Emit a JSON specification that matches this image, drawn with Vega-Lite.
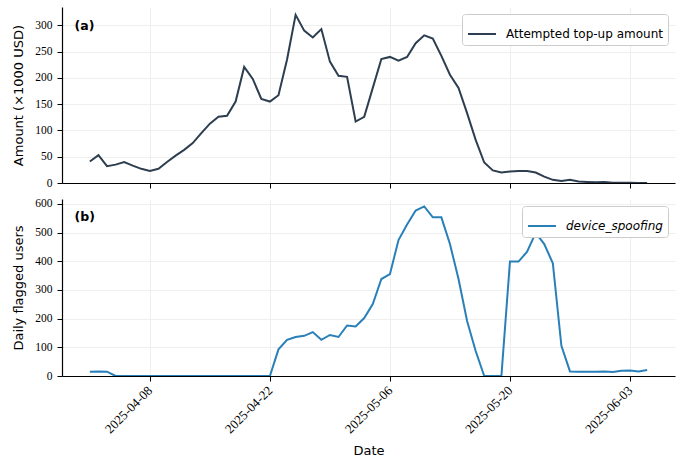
{
  "$schema": "https://vega.github.io/schema/vega-lite/v6.json",
  "padding": {"left": 12, "top": 7, "right": 5, "bottom": 5},
  "datasets": {
    "amount": [
      {"date": "2025-04-01", "series": "Attempted top-up amount", "value": 41},
      {"date": "2025-04-02", "series": "Attempted top-up amount", "value": 53},
      {"date": "2025-04-03", "series": "Attempted top-up amount", "value": 32},
      {"date": "2025-04-04", "series": "Attempted top-up amount", "value": 35},
      {"date": "2025-04-05", "series": "Attempted top-up amount", "value": 40},
      {"date": "2025-04-06", "series": "Attempted top-up amount", "value": 33},
      {"date": "2025-04-07", "series": "Attempted top-up amount", "value": 27},
      {"date": "2025-04-08", "series": "Attempted top-up amount", "value": 23},
      {"date": "2025-04-09", "series": "Attempted top-up amount", "value": 27},
      {"date": "2025-04-10", "series": "Attempted top-up amount", "value": 40},
      {"date": "2025-04-11", "series": "Attempted top-up amount", "value": 52},
      {"date": "2025-04-12", "series": "Attempted top-up amount", "value": 63},
      {"date": "2025-04-13", "series": "Attempted top-up amount", "value": 76},
      {"date": "2025-04-14", "series": "Attempted top-up amount", "value": 95},
      {"date": "2025-04-15", "series": "Attempted top-up amount", "value": 113},
      {"date": "2025-04-16", "series": "Attempted top-up amount", "value": 126},
      {"date": "2025-04-17", "series": "Attempted top-up amount", "value": 128},
      {"date": "2025-04-18", "series": "Attempted top-up amount", "value": 155},
      {"date": "2025-04-19", "series": "Attempted top-up amount", "value": 221},
      {"date": "2025-04-20", "series": "Attempted top-up amount", "value": 198},
      {"date": "2025-04-21", "series": "Attempted top-up amount", "value": 160},
      {"date": "2025-04-22", "series": "Attempted top-up amount", "value": 155},
      {"date": "2025-04-23", "series": "Attempted top-up amount", "value": 167},
      {"date": "2025-04-24", "series": "Attempted top-up amount", "value": 235},
      {"date": "2025-04-25", "series": "Attempted top-up amount", "value": 320},
      {"date": "2025-04-26", "series": "Attempted top-up amount", "value": 290},
      {"date": "2025-04-27", "series": "Attempted top-up amount", "value": 277},
      {"date": "2025-04-28", "series": "Attempted top-up amount", "value": 293},
      {"date": "2025-04-29", "series": "Attempted top-up amount", "value": 231},
      {"date": "2025-04-30", "series": "Attempted top-up amount", "value": 204},
      {"date": "2025-05-01", "series": "Attempted top-up amount", "value": 202},
      {"date": "2025-05-02", "series": "Attempted top-up amount", "value": 117},
      {"date": "2025-05-03", "series": "Attempted top-up amount", "value": 126},
      {"date": "2025-05-04", "series": "Attempted top-up amount", "value": 181},
      {"date": "2025-05-05", "series": "Attempted top-up amount", "value": 236},
      {"date": "2025-05-06", "series": "Attempted top-up amount", "value": 240},
      {"date": "2025-05-07", "series": "Attempted top-up amount", "value": 233},
      {"date": "2025-05-08", "series": "Attempted top-up amount", "value": 240},
      {"date": "2025-05-09", "series": "Attempted top-up amount", "value": 266},
      {"date": "2025-05-10", "series": "Attempted top-up amount", "value": 281},
      {"date": "2025-05-11", "series": "Attempted top-up amount", "value": 275},
      {"date": "2025-05-12", "series": "Attempted top-up amount", "value": 242},
      {"date": "2025-05-13", "series": "Attempted top-up amount", "value": 206},
      {"date": "2025-05-14", "series": "Attempted top-up amount", "value": 181},
      {"date": "2025-05-15", "series": "Attempted top-up amount", "value": 133},
      {"date": "2025-05-16", "series": "Attempted top-up amount", "value": 82},
      {"date": "2025-05-17", "series": "Attempted top-up amount", "value": 39},
      {"date": "2025-05-18", "series": "Attempted top-up amount", "value": 24},
      {"date": "2025-05-19", "series": "Attempted top-up amount", "value": 20},
      {"date": "2025-05-20", "series": "Attempted top-up amount", "value": 22},
      {"date": "2025-05-21", "series": "Attempted top-up amount", "value": 23},
      {"date": "2025-05-22", "series": "Attempted top-up amount", "value": 23},
      {"date": "2025-05-23", "series": "Attempted top-up amount", "value": 20},
      {"date": "2025-05-24", "series": "Attempted top-up amount", "value": 12},
      {"date": "2025-05-25", "series": "Attempted top-up amount", "value": 6},
      {"date": "2025-05-26", "series": "Attempted top-up amount", "value": 4},
      {"date": "2025-05-27", "series": "Attempted top-up amount", "value": 6},
      {"date": "2025-05-28", "series": "Attempted top-up amount", "value": 3},
      {"date": "2025-05-29", "series": "Attempted top-up amount", "value": 2},
      {"date": "2025-05-30", "series": "Attempted top-up amount", "value": 1.2},
      {"date": "2025-05-31", "series": "Attempted top-up amount", "value": 2},
      {"date": "2025-06-01", "series": "Attempted top-up amount", "value": 0.5},
      {"date": "2025-06-02", "series": "Attempted top-up amount", "value": 0.4},
      {"date": "2025-06-03", "series": "Attempted top-up amount", "value": 0.3},
      {"date": "2025-06-04", "series": "Attempted top-up amount", "value": 0.1},
      {"date": "2025-06-05", "series": "Attempted top-up amount", "value": 0.1}
    ],
    "flagged": [
      {"date": "2025-04-01", "series": "device_spoofing", "value": 15},
      {"date": "2025-04-02", "series": "device_spoofing", "value": 16},
      {"date": "2025-04-03", "series": "device_spoofing", "value": 15},
      {"date": "2025-04-04", "series": "device_spoofing", "value": 0},
      {"date": "2025-04-05", "series": "device_spoofing", "value": 0},
      {"date": "2025-04-06", "series": "device_spoofing", "value": 0},
      {"date": "2025-04-07", "series": "device_spoofing", "value": 0},
      {"date": "2025-04-08", "series": "device_spoofing", "value": 0},
      {"date": "2025-04-09", "series": "device_spoofing", "value": 0},
      {"date": "2025-04-10", "series": "device_spoofing", "value": 0},
      {"date": "2025-04-11", "series": "device_spoofing", "value": 0},
      {"date": "2025-04-12", "series": "device_spoofing", "value": 0},
      {"date": "2025-04-13", "series": "device_spoofing", "value": 0},
      {"date": "2025-04-14", "series": "device_spoofing", "value": 0},
      {"date": "2025-04-15", "series": "device_spoofing", "value": 0},
      {"date": "2025-04-16", "series": "device_spoofing", "value": 0},
      {"date": "2025-04-17", "series": "device_spoofing", "value": 0},
      {"date": "2025-04-18", "series": "device_spoofing", "value": 0},
      {"date": "2025-04-19", "series": "device_spoofing", "value": 0},
      {"date": "2025-04-20", "series": "device_spoofing", "value": 0},
      {"date": "2025-04-21", "series": "device_spoofing", "value": 0},
      {"date": "2025-04-22", "series": "device_spoofing", "value": 0},
      {"date": "2025-04-23", "series": "device_spoofing", "value": 93},
      {"date": "2025-04-24", "series": "device_spoofing", "value": 126},
      {"date": "2025-04-25", "series": "device_spoofing", "value": 136},
      {"date": "2025-04-26", "series": "device_spoofing", "value": 140},
      {"date": "2025-04-27", "series": "device_spoofing", "value": 153},
      {"date": "2025-04-28", "series": "device_spoofing", "value": 126},
      {"date": "2025-04-29", "series": "device_spoofing", "value": 143},
      {"date": "2025-04-30", "series": "device_spoofing", "value": 136},
      {"date": "2025-05-01", "series": "device_spoofing", "value": 176},
      {"date": "2025-05-02", "series": "device_spoofing", "value": 173},
      {"date": "2025-05-03", "series": "device_spoofing", "value": 202},
      {"date": "2025-05-04", "series": "device_spoofing", "value": 251},
      {"date": "2025-05-05", "series": "device_spoofing", "value": 338},
      {"date": "2025-05-06", "series": "device_spoofing", "value": 355},
      {"date": "2025-05-07", "series": "device_spoofing", "value": 474},
      {"date": "2025-05-08", "series": "device_spoofing", "value": 528},
      {"date": "2025-05-09", "series": "device_spoofing", "value": 577},
      {"date": "2025-05-10", "series": "device_spoofing", "value": 591},
      {"date": "2025-05-11", "series": "device_spoofing", "value": 553},
      {"date": "2025-05-12", "series": "device_spoofing", "value": 553},
      {"date": "2025-05-13", "series": "device_spoofing", "value": 460},
      {"date": "2025-05-14", "series": "device_spoofing", "value": 338},
      {"date": "2025-05-15", "series": "device_spoofing", "value": 192},
      {"date": "2025-05-16", "series": "device_spoofing", "value": 87},
      {"date": "2025-05-17", "series": "device_spoofing", "value": 0},
      {"date": "2025-05-18", "series": "device_spoofing", "value": 0},
      {"date": "2025-05-19", "series": "device_spoofing", "value": 0},
      {"date": "2025-05-20", "series": "device_spoofing", "value": 399},
      {"date": "2025-05-21", "series": "device_spoofing", "value": 399},
      {"date": "2025-05-22", "series": "device_spoofing", "value": 433},
      {"date": "2025-05-23", "series": "device_spoofing", "value": 499},
      {"date": "2025-05-24", "series": "device_spoofing", "value": 460},
      {"date": "2025-05-25", "series": "device_spoofing", "value": 393},
      {"date": "2025-05-26", "series": "device_spoofing", "value": 105},
      {"date": "2025-05-27", "series": "device_spoofing", "value": 16},
      {"date": "2025-05-28", "series": "device_spoofing", "value": 15},
      {"date": "2025-05-29", "series": "device_spoofing", "value": 15},
      {"date": "2025-05-30", "series": "device_spoofing", "value": 15},
      {"date": "2025-05-31", "series": "device_spoofing", "value": 16},
      {"date": "2025-06-01", "series": "device_spoofing", "value": 14},
      {"date": "2025-06-02", "series": "device_spoofing", "value": 18},
      {"date": "2025-06-03", "series": "device_spoofing", "value": 19},
      {"date": "2025-06-04", "series": "device_spoofing", "value": 16},
      {"date": "2025-06-05", "series": "device_spoofing", "value": 21}
    ]
  },
  "vconcat": [
    {
      "width": 613,
      "height": 176,
      "data": {"name": "amount"},
      "encoding": {
        "x": {
          "field": "date", "type": "temporal",
          "scale": {"type": "utc", "domain": [
            {"year": 2025, "month": 3, "date": 28, "hours": 18, "utc": true},
            {"year": 2025, "month": 6, "date": 8, "hours": 6, "utc": true}]},
          "axis": {
            "title": null, "labels": false, "grid": true,
            "values": [
              {"year": 2025, "month": 4, "date": 8, "utc": true},
              {"year": 2025, "month": 4, "date": 22, "utc": true},
              {"year": 2025, "month": 5, "date": 6, "utc": true},
              {"year": 2025, "month": 5, "date": 20, "utc": true},
              {"year": 2025, "month": 6, "date": 3, "utc": true}]
          }
        },
        "y": {
          "field": "value", "type": "quantitative",
          "scale": {"domain": [0, 335], "nice": false, "zero": false},
          "axis": {"title": "Amount (×1000 USD)", "values": [0, 50, 100, 150, 200, 250, 300], "grid": true, "labelOverlap": false, "labelFont": "Liberation Serif, Times New Roman, serif"}
        }
      },
      "layer": [
        {
          "mark": {"type": "line", "strokeWidth": 2, "clip": true},
          "encoding": {
            "color": {
              "field": "series", "type": "nominal",
              "scale": {"range": ["#2c3e50"]},
              "legend": {"title": null, "orient": "top-right"}
            }
          }
        },
        {
          "data": {"values": [{"label": "(a)", "date": "2025-03-30T05:00:00Z", "value": 298}]},
          "mark": {"type": "text", "align": "left", "baseline": "middle", "font": "DejaVu Sans", "fontWeight": "bold", "fontSize": 12.5, "color": "#000"},
          "encoding": {
            "text": {"field": "label"}
          }
        }
      ]
    },
    {
      "width": 613,
      "height": 177,
      "data": {"name": "flagged"},
      "encoding": {
        "x": {
          "field": "date", "type": "temporal",
          "scale": {"type": "utc", "domain": [
            {"year": 2025, "month": 3, "date": 28, "hours": 18, "utc": true},
            {"year": 2025, "month": 6, "date": 8, "hours": 6, "utc": true}]},
          "axis": {
            "title": "Date", "grid": true, "format": "%Y-%m-%d", "labelAngle": -45, "labelBaseline": "middle",
            "labelFont": "Liberation Serif, Times New Roman, serif", "labelFontSize": 13, "labelPadding": 7, "titlePadding": 9,
            "values": [
              {"year": 2025, "month": 4, "date": 8, "utc": true},
              {"year": 2025, "month": 4, "date": 22, "utc": true},
              {"year": 2025, "month": 5, "date": 6, "utc": true},
              {"year": 2025, "month": 5, "date": 20, "utc": true},
              {"year": 2025, "month": 6, "date": 3, "utc": true}]
          }
        },
        "y": {
          "field": "value", "type": "quantitative",
          "scale": {"domain": [0, 617], "nice": false, "zero": false},
          "axis": {"title": "Daily flagged users", "values": [0, 100, 200, 300, 400, 500, 600], "grid": true, "labelOverlap": false, "labelFont": "Liberation Serif, Times New Roman, serif"}
        }
      },
      "layer": [
        {
          "mark": {"type": "line", "strokeWidth": 2, "clip": true},
          "encoding": {
            "color": {
              "field": "series", "type": "nominal",
              "scale": {"range": ["#2980b9"]},
              "legend": {"title": null, "orient": "top-right", "labelFontStyle": "italic"}
            }
          }
        },
        {
          "data": {"values": [{"label": "(b)", "date": "2025-03-30T05:00:00Z", "value": 553}]},
          "mark": {"type": "text", "align": "left", "baseline": "middle", "font": "DejaVu Sans", "fontWeight": "bold", "fontSize": 12.5, "color": "#000"},
          "encoding": {
            "text": {"field": "label"}
          }
        }
      ]
    }
  ],
  "resolve": {"scale": {"color": "independent"}, "legend": {"color": "independent"}},
  "config": {
    "view": {"stroke": null},
    "font": "DejaVu Sans",
    "concat": {"spacing": 8},
    "axis": {
      "domainColor": "#000000", "domainWidth": 1.2,
      "tickColor": "#000000", "tickSize": 5, "tickWidth": 1,
      "labelColor": "#000000", "labelFont": "Liberation Serif", "labelFontSize": 11.5, "labelPadding": 5,
      "titleFont": "DejaVu Sans", "titleFontSize": 13, "titleFontWeight": "normal", "titleColor": "#000000",
      "gridColor": "#ebebeb", "gridWidth": 0.8
    },
    "axisY": {"minExtent": 27, "maxExtent": 27, "titlePadding": 10},
    "legend": {
      "symbolType": "stroke", "symbolSize": 784, "symbolStrokeWidth": 2,
      "labelFont": "DejaVu Sans", "labelFontSize": 12, "labelColor": "#000000", "labelOffset": 9,
      "padding": 5, "offset": 7, "strokeColor": "#cccccc", "fillColor": "#ffffff", "cornerRadius": 3
    }
  }
}
